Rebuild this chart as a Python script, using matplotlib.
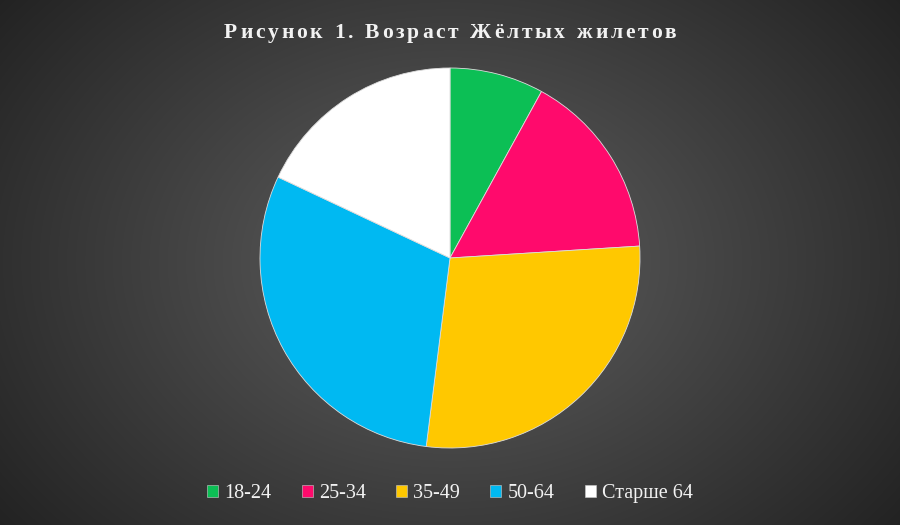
import numpy as np
import matplotlib.pyplot as plt
from matplotlib.patches import Patch

# Age groups and shares (%)
labels = ["18-24", "25-34", "35-49", "50-64", "Старше 64"]
shares = [8, 16, 28, 30, 18]
colors = ["#0cbf55", "#ff0a6c", "#ffc800", "#00b9f2", "#ffffff"]
title = "Рисунок 1. Возраст Жёлтых жилетов"

W, H = 900, 525
fig = plt.figure(figsize=(W / 100, H / 100), dpi=100)
ax = fig.add_axes([0, 0, 1, 1])
ax.set_xlim(0, W)
ax.set_ylim(0, H)
ax.set_aspect("equal")
ax.axis("off")

# radial gradient background
yy, xx = np.mgrid[0:H, 0:W]
r = np.sqrt(((xx - 450) / 560) ** 2 + ((yy - 262) / 420) ** 2)
g = np.clip(0.38 - 0.24 * r, 0.12, 0.4)
bg = np.dstack([g, g, g])
ax.imshow(bg, extent=[0, W, 0, H], origin="lower", zorder=0)

wedges, _ = ax.pie(shares, colors=colors, startangle=90, counterclock=False,
                   center=(450, 267), radius=190,
                   wedgeprops=dict(edgecolor="#dddddd", linewidth=0.6))
for w in wedges:
    w.set_zorder(2)
ax.set_xlim(0, W)
ax.set_ylim(0, H)

# title with letter spacing, drawn char by char
fig.canvas.draw()
rend = fig.canvas.get_renderer()
fs = 15.5
spacing = 2.7
widths = []
for ch in title:
    t = fig.text(0, 0, ch if ch != " " else "n", fontsize=fs, fontweight="bold",
                 family="Liberation Serif")
    bb = t.get_window_extent(rend)
    widths.append(bb.width * (0.55 if ch == " " else 1.0))
    t.remove()
total = sum(widths) + spacing * (len(title) - 1)
x = 450 - total / 2
for ch, wd in zip(title, widths):
    if ch != " ":
        fig.text(x / W, 1 - 38 / H, ch, fontsize=fs, fontweight="bold",
                 family="Liberation Serif", color="#f2f2f2")
    x += wd + spacing

handles = [Patch(facecolor=c, edgecolor="#cccccc", linewidth=0.4) for c in colors]
leg = ax.legend(handles, labels, ncol=5, loc="lower center",
                bbox_to_anchor=(0.5, 0.0), frameon=False,
                prop={"family": "Liberation Serif", "size": 14.5},
                labelcolor="#f2f2f2", handlelength=0.55, handleheight=0.55,
                handletextpad=0.3, columnspacing=1.5, borderaxespad=0.7)

fig.savefig("out.png", dpi=100)
